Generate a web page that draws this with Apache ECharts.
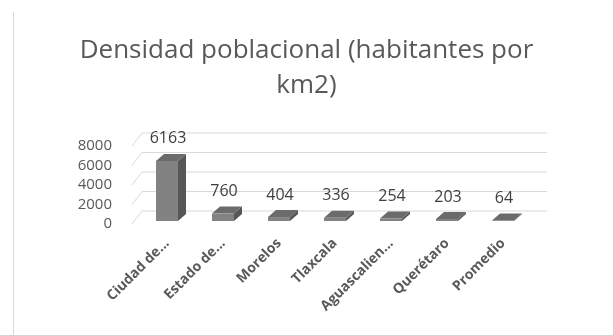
<!DOCTYPE html>
<html>
<head>
<meta charset="utf-8">
<script src="https://cdn.jsdelivr.net/npm/echarts@6/dist/echarts.min.js"></script>
<style>
	html, body { margin: 0; padding: 0; background: #fff; }
	#chart { width: 613px; height: 335px; }
</style>
</head>
<body>
<div id="chart"></div>
<script>
	var categories = ['Ciudad de...', 'Estado de...', 'Morelos', 'Tlaxcala', 'Aguascalien...', 'Querétaro', 'Promedio'];
	var densidad = [6163, 760, 404, 336, 254, 203, 64];
	var yTicks = [0, 2000, 4000, 6000, 8000];

	var chart = echarts.init(document.getElementById('chart'));

	// perspective offsets (Excel style 3D)
	var wallDx = 10, wallDy = 13;
	var barDx = 8, barDy = 7, barShiftY = -3, barW = 22;

	function renderWall(params, api) {
		var cs = params.coordSys;
		var y = api.coord([0, api.value(0)])[1];
		var x0 = cs.x - 7;
		return {
			type: 'polyline',
			shape: { points: [[x0, y], [x0 + wallDx, y - wallDy], [cs.x + cs.width + 16, y - wallDy]] },
			style: { stroke: '#d9d9d9', lineWidth: 1, fill: null },
			silent: true
		};
	}

	function renderBar(params, api) {
		var top = api.coord([api.value(0), api.value(1)]);
		var base = api.coord([api.value(0), 0]);
		var xl = top[0] - barW / 2, xr = top[0] + barW / 2;
		var yt = top[1] + barShiftY, yb = base[1] + barShiftY;
		return {
			type: 'group',
			children: [
				{ type: 'polygon', shape: { points: [[xr, yt], [xr + barDx, yt - barDy], [xr + barDx, yb - barDy], [xr, yb]] },
					style: { fill: '#575757' } },
				{ type: 'polygon', shape: { points: [[xl, yt], [xl + barDx, yt - barDy], [xr + barDx, yt - barDy], [xr, yt]] },
					style: { fill: '#6b6b6b' } },
				{ type: 'rect', shape: { x: xl, y: yt, width: barW, height: yb - yt },
					style: { fill: '#828282' } },
				{ type: 'text', x: top[0] + 1, y: yt - barDy - 7,
					style: { text: String(api.value(1)), fill: '#404040', font: '16px "Open Sans"', align: 'center', verticalAlign: 'bottom' } }
			]
		};
	}

	chart.setOption({
		animation: false,
		textStyle: { fontFamily: '"Open Sans", sans-serif' },
		title: {
			text: 'Densidad poblacional (habitantes por\nkm2)',
			left: 'center',
			top: 28,
			textStyle: { color: '#595959', fontSize: 26, fontWeight: 'normal', lineHeight: 35, fontFamily: '"Open Sans"' }
		},
		graphic: [{
			type: 'line',
			shape: { x1: 13.5, y1: 12, x2: 13.5, y2: 335 },
			style: { stroke: '#d9d9d9', lineWidth: 1 }
		}],
		grid: { left: 139, width: 392, top: 146, height: 78 },
		xAxis: {
			type: 'category',
			data: categories,
			axisLine: { show: false },
			axisTick: { show: false },
			axisLabel: { rotate: 45, margin: 17, color: '#595959', fontSize: 14, fontWeight: 'bold', fontFamily: '"Open Sans"' }
		},
		yAxis: {
			type: 'value',
			min: 0,
			max: 8000,
			interval: 2000,
			splitLine: { show: false },
			axisLine: { show: false },
			axisTick: { show: false },
			axisLabel: { margin: 27, color: '#595959', fontSize: 15, fontFamily: '"Open Sans"',
				formatter: function (v) { return String(v); } }
		},
		series: [{
			type: 'custom',
			renderItem: renderWall,
			data: yTicks.map(function (v) { return [v]; }),
			encode: { y: 0 },
			z: 1
		}, {
			type: 'custom',
			renderItem: renderBar,
			data: densidad.map(function (v, i) { return [i, v]; }),
			encode: { x: 0, y: 1 },
			z: 2
		}]
	});
</script>
</body>
</html>
